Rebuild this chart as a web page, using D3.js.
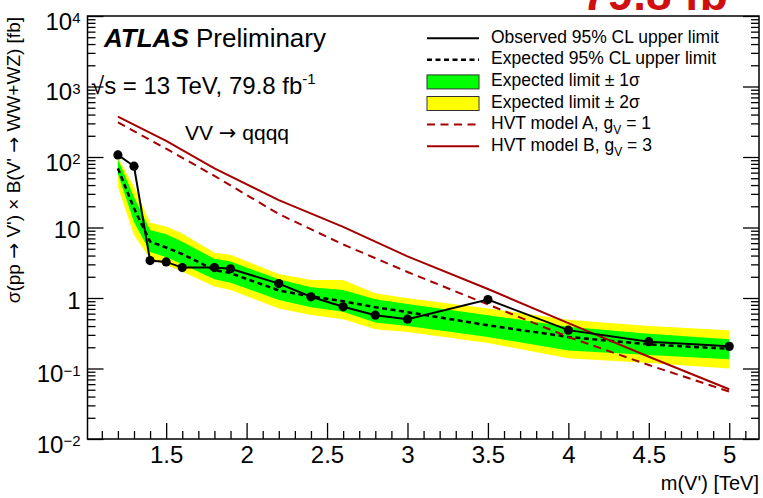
<!DOCTYPE html>
<html>
<head>
<meta charset="utf-8">
<script src="https://cdn.jsdelivr.net/npm/d3@7"></script>
<style>
  body { margin: 0; background: #fff; }
  svg { display: block; font-family: "Liberation Sans", Arial, Helvetica, sans-serif; }
  .arrow { font-family: "DejaVu Sans", sans-serif; }
</style>
</head>
<body>
<div id="chart"></div>
<script>
// resonance masses (TeV) for the limit curves
const massPoints = [1.2, 1.3, 1.4, 1.5, 1.6, 1.8, 1.9, 2.2, 2.4, 2.6, 2.8, 3.0, 3.5, 4.0, 4.5, 5.0];
// limits in fb
const observed = [107, 74, 3.4, 3.25, 2.7, 2.7, 2.6, 1.6, 1.04, 0.75, 0.57, 0.50, 0.95, 0.35, 0.24, 0.206];
const expected = [69, 18.7, 6.3, 5.2, 4.2, 2.5, 2.25, 1.28, 1.05, 0.9, 0.74, 0.63, 0.41, 0.28, 0.22, 0.19];
const plus1 = [93, 27, 9.2, 8.0, 6.3, 3.6, 3.3, 1.84, 1.42, 1.30, 0.96, 0.82, 0.57, 0.39, 0.31, 0.26];
const minus1 = [58, 12, 4.5, 3.8, 3.0, 1.85, 1.65, 0.94, 0.74, 0.64, 0.45, 0.40, 0.28, 0.18, 0.155, 0.135];
const plus2 = [99, 38, 11.7, 10.3, 8.2, 4.4, 4.1, 2.19, 1.8, 1.80, 1.17, 0.99, 0.71, 0.49, 0.40, 0.35];
const minus2 = [38, 7.8, 3.6, 2.95, 2.35, 1.45, 1.3, 0.71, 0.575, 0.50, 0.36, 0.33, 0.23, 0.14, 0.12, 0.10];

// HVT model predictions
const hvtMass = [1.2, 1.5, 1.8, 2.2, 2.6, 3.0, 3.5, 4.0, 4.5, 5.0];
const hvtA = [310, 131, 54, 15.5, 5.75, 2.34, 0.81, 0.28, 0.112, 0.047];
const hvtB = [373, 169, 69, 24.5, 10.2, 3.9, 1.34, 0.44, 0.147, 0.0507];

const xMajorTicks = [1.5, 2, 2.5, 3, 3.5, 4, 4.5, 5];
const yMajorTicks = [1e-2, 1e-1, 1, 10, 1e2, 1e3, 1e4];

const legendLabels = [
  "Observed 95% CL upper limit",
  "Expected 95% CL upper limit",
  "Expected limit \u00b1 1\u03c3",
  "Expected limit \u00b1 2\u03c3",
  "HVT model A, g|V| = 1",
  "HVT model B, g|V| = 3"
];

const width = 763;
const height = 498;
const marginLeft = 87.5;
const marginRight = 4;
const marginTop = 16;
const marginBottom = 59;

const darkRed = "#a50000";

const x = d3.scaleLinear([1.011, 5.185], [marginLeft, width - marginRight]);
const y = d3.scaleLog([1e-2, 1e4], [height - marginBottom, marginTop]);

const svg = d3.select("#chart")
  .append("svg")
  .attr("width", width)
  .attr("height", height)
  .attr("viewBox", [0, 0, width, height]);

svg.append("rect").attr("width", width).attr("height", height).attr("fill", "#fff");

// cut-off red luminosity label at the very top
svg.append("text")
  .attr("x", 582).attr("y", 10)
  .attr("font-size", 46).attr("font-weight", "bold")
  .attr("fill", "#d01010")
  .text("79.8 fb");

// bands
const band = (lo, hi) => d3.area()
  .x((d, i) => x(massPoints[i]))
  .y0((d, i) => y(lo[i]))
  .y1((d, i) => y(hi[i]));

svg.append("path")
  .attr("fill", "#ffff00")
  .attr("d", band(minus2, plus2)(massPoints));
svg.append("path")
  .attr("fill", "#00ff00")
  .attr("d", band(minus1, plus1)(massPoints));

// expected
const lineOf = (xs, ys) => d3.line().x((d, i) => x(xs[i])).y((d, i) => y(ys[i]))(xs);

svg.append("path")
  .attr("fill", "none").attr("stroke", "#000").attr("stroke-width", 2.5)
  .attr("stroke-dasharray", "5,3.5")
  .attr("d", lineOf(massPoints, expected));

// HVT models
svg.append("path")
  .attr("fill", "none").attr("stroke", darkRed).attr("stroke-width", 2)
  .attr("stroke-dasharray", "8,5.5")
  .attr("d", lineOf(hvtMass, hvtA));
svg.append("path")
  .attr("fill", "none").attr("stroke", darkRed).attr("stroke-width", 2)
  .attr("d", lineOf(hvtMass, hvtB));

// observed
svg.append("path")
  .attr("fill", "none").attr("stroke", "#000").attr("stroke-width", 2)
  .attr("d", lineOf(massPoints, observed));
svg.append("g")
  .selectAll("circle")
  .data(observed)
  .join("circle")
  .attr("cx", (d, i) => x(massPoints[i]))
  .attr("cy", d => y(d))
  .attr("r", 4.6)
  .attr("fill", "#000");

// axes
const xMinor = d3.range(11, 52).map(d => d / 10).filter(d => !xMajorTicks.includes(d));
const yMinor = [];
for (let e = -2; e < 4; e++) {
  for (let k = 2; k < 10; k++) yMinor.push(k * Math.pow(10, e));
}

const bottom = height - marginBottom;
const right = width - marginRight;

svg.append("g")
  .attr("transform", `translate(0,${bottom})`)
  .call(d3.axisBottom(x).tickValues(xMinor).tickSize(-8).tickFormat(""))
  .call(g => g.select(".domain").remove());
svg.append("g")
  .attr("transform", `translate(0,${bottom})`)
  .call(d3.axisBottom(x).tickValues(xMajorTicks).tickSize(-16).tickPadding(7).tickFormat(d3.format("")))
  .attr("font-size", 24).attr("font-family", null)
  .call(g => g.select(".domain").remove())
  .call(g => g.selectAll("text").attr("fill", "#000"));

svg.append("g")
  .attr("transform", `translate(${marginLeft},0)`)
  .call(d3.axisLeft(y).tickValues(yMinor).tickSize(-8).tickFormat(""))
  .call(g => g.select(".domain").remove());
svg.append("g")
  .attr("transform", `translate(${right},0)`)
  .call(d3.axisRight(y).tickValues(yMinor).tickSize(-8).tickFormat(""))
  .call(g => g.select(".domain").remove());
svg.append("g")
  .attr("transform", `translate(${right},0)`)
  .call(d3.axisRight(y).tickValues(yMajorTicks).tickSize(-16).tickFormat(""))
  .call(g => g.select(".domain").remove());

svg.append("g")
  .attr("transform", `translate(${marginLeft},0)`)
  .call(d3.axisLeft(y).tickValues(yMajorTicks).tickSize(-16).tickPadding(7).tickFormat(""))
  .attr("font-size", 24).attr("font-family", null)
  .call(g => g.select(".domain").remove())
  .call(g => g.selectAll(".tick").each(function (d) {
    const t = d3.select(this).select("text").attr("fill", "#000");
    const e = Math.round(Math.log10(d));
    if (e === 0 || e === 1) {
      t.attr("dy", "0.42em").text(e === 0 ? "1" : "10");
    } else {
      t.attr("dy", "0.55em").text("10");
      t.append("tspan")
        .attr("dy", "-0.42em")
        .attr("font-size", 15)
        .text(e < 0 ? "\u2212" + (-e) : e);
    }
  }));

svg.selectAll(".tick line").attr("stroke", "#000").attr("stroke-width", 1.3);

// frame
svg.append("rect")
  .attr("x", marginLeft).attr("y", marginTop)
  .attr("width", right - marginLeft).attr("height", bottom - marginTop)
  .attr("fill", "none").attr("stroke", "#000").attr("stroke-width", 1.5);

// axis titles
svg.append("text")
  .attr("x", right).attr("y", 490)
  .attr("text-anchor", "end").attr("font-size", 20)
  .text("m(V') [TeV]");

const yTitle = svg.append("text")
  .attr("transform", "translate(20,17) rotate(-90)")
  .attr("text-anchor", "end").attr("font-size", 19);
yTitle.append("tspan").text("\u03c3(pp ");
yTitle.append("tspan").attr("class", "arrow").text("\u2192");
yTitle.append("tspan").text(" V') \u00d7 B(V' ");
yTitle.append("tspan").attr("class", "arrow").text("\u2192");
yTitle.append("tspan").text(" WW+WZ) [fb]");

// labels inside the plot
const atlas = svg.append("text").attr("x", 104).attr("y", 47).attr("font-size", 26);
atlas.append("tspan").attr("font-weight", "bold").attr("font-style", "italic").text("ATLAS");
atlas.append("tspan").text(" Preliminary");

const lumi = svg.append("text").attr("x", 91).attr("y", 94).attr("font-size", 24);
lumi.append("tspan").text("\u221as = 13 TeV, 79.8 fb");
lumi.append("tspan").attr("dy", -10).attr("font-size", 15).text("-1");

const proc = svg.append("text").attr("x", 185).attr("y", 140).attr("font-size", 21);
proc.append("tspan").text("VV ");
proc.append("tspan").attr("class", "arrow").text("\u2192");
proc.append("tspan").text(" qqqq");

// legend
const legend = svg.append("g").attr("font-size", 17.5);
const rowY = i => 42.7 + i * 21.6;
const symX0 = 427, symX1 = 479;

legendLabels.forEach((label, i) => {
  const by = rowY(i);
  if (i === 0 || i === 1) {
    legend.append("line")
      .attr("x1", symX0).attr("x2", symX1).attr("y1", by - 4.5).attr("y2", by - 4.5)
      .attr("stroke", "#000").attr("stroke-width", i === 0 ? 2 : 2.5)
      .attr("stroke-dasharray", i === 0 ? null : "5,3.5");
  } else if (i === 2 || i === 3) {
    legend.append("rect")
      .attr("x", symX0).attr("y", by - 11).attr("width", symX1 - symX0).attr("height", 14)
      .attr("fill", i === 2 ? "#00ff00" : "#ffff00")
      .attr("stroke", "#333").attr("stroke-width", 1);
  } else {
    legend.append("line")
      .attr("x1", symX0).attr("x2", symX1).attr("y1", by - 4.5).attr("y2", by - 4.5)
      .attr("stroke", darkRed).attr("stroke-width", 2)
      .attr("stroke-dasharray", i === 4 ? "8,5.5" : null);
  }
  const t = legend.append("text").attr("x", 491).attr("y", by);
  const parts = label.split("|");
  t.append("tspan").text(parts[0]);
  if (parts.length > 1) {
    t.append("tspan").attr("dy", 5).attr("font-size", 12).text(parts[1]);
    t.append("tspan").attr("dy", -5).text(parts[2]);
  }
});
</script>
</body>
</html>
